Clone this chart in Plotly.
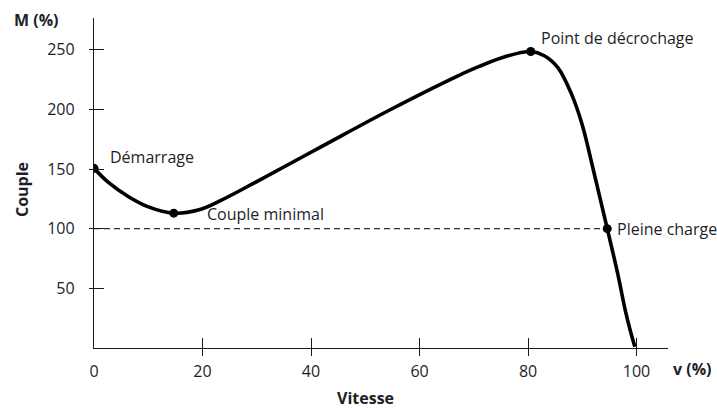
import plotly.graph_objects as go

# Torque-speed curve data
vitesse = [0, 2.6, 6.3, 9.9, 14.7, 19.2, 23.5, 30, 42, 54.5, 66.8, 71, 76, 80.5,
           83, 85.5, 88, 90, 92, 94.6, 96.5, 98, 99, 99.7]
couple = [150.6, 139, 127, 118.5, 113, 115.6, 124, 139.5, 169, 199.5, 227.5, 236, 244.5, 248.5,
          245, 235, 213, 187, 150, 100, 63, 30, 12, 1]

# Key points
pt_names = ["Démarrage", "Couple minimal", "Point de décrochage", "Pleine charge"]
pt_x = [0, 14.7, 80.5, 94.6]
pt_y = [150.6, 113, 248.5, 100]
pt_xshift = [14, 31, 8, 8]
pt_yshift = [11, -1, 14, 0]

# Nominal torque reference
nominal_x = [0, 94.6]
nominal_y = [100, 100]

x_ticks = [0, 20, 40, 60, 80, 100]
y_ticks = [50, 100, 150, 200, 250]

FONT = "Open Sans"
FS = 16
TXT = "#1e1e28"
AX = "#1a1a1a"

fig = go.Figure()

fig.add_trace(go.Scatter(x=nominal_x, y=nominal_y, mode="lines",
                         line=dict(color="#333333", width=1.2, dash="6px,4px"),
                         hoverinfo="skip", showlegend=False))
fig.add_trace(go.Scatter(x=vitesse, y=couple, mode="lines",
                         line=dict(color="black", width=3.6, shape="spline", smoothing=1.0),
                         showlegend=False))
fig.add_trace(go.Scatter(x=pt_x, y=pt_y, mode="markers",
                         marker=dict(color="black", size=9),
                         showlegend=False))

for n, x, y, dx, dy in zip(pt_names, pt_x, pt_y, pt_xshift, pt_yshift):
    fig.add_annotation(x=x, y=y, text=n, showarrow=False, xanchor="left", yanchor="middle",
                       xshift=dx, yshift=dy, font=dict(family=FONT, size=FS, color=TXT))

xr = [0, 105.8]
yr = [0, 276.6]

fig.update_layout(
    width=717, height=409,
    margin=dict(l=94, r=49, t=18, b=61),
    paper_bgcolor="white", plot_bgcolor="white",
    font=dict(family=FONT, size=FS, color=TXT),
    xaxis=dict(range=xr, showgrid=False, zeroline=False, showline=True, linecolor=AX, linewidth=1.3,
               ticks="outside", ticklen=7, tickwidth=1.2, tickcolor=AX,
               tickvals=x_ticks[1:], showticklabels=False),
    xaxis2=dict(range=xr, overlaying="x", side="bottom", showgrid=False, zeroline=False, showline=False,
                ticks="inside", ticklen=10, tickwidth=1.2, tickcolor=AX,
                tickvals=x_ticks, ticktext=[str(v) for v in x_ticks], ticklabelstandoff=12,
                tickfont=dict(family=FONT, size=FS, color=TXT)),
    yaxis=dict(range=yr, showgrid=False, zeroline=False, showline=True, linecolor=AX, linewidth=1.3,
               ticks="outside", ticklen=4, tickwidth=1.2, tickcolor=AX,
               tickvals=y_ticks, ticktext=[str(v) for v in y_ticks], ticklabelstandoff=11,
               tickfont=dict(family=FONT, size=FS, color=TXT)),
    yaxis2=dict(range=yr, overlaying="y", side="left", showgrid=False, zeroline=False, showline=False,
                ticks="inside", ticklen=10, tickwidth=1.2, tickcolor=AX,
                tickvals=y_ticks, showticklabels=False),
)

# dummy trace to activate overlay axes
fig.add_trace(go.Scatter(x=[None], y=[None], xaxis="x2", yaxis="y2", showlegend=False, hoverinfo="skip"))

# axis titles
fig.add_annotation(xref="paper", yref="paper", x=-0.1001, y=0.995, text="<b>M (%)</b>", showarrow=False,
                   xanchor="center", yanchor="middle", font=dict(family=FONT, size=FS, color=TXT))
fig.add_annotation(xref="paper", yref="paper", x=1.043, y=-0.0647, text="<b>v (%)</b>", showarrow=False,
                   xanchor="center", yanchor="middle", font=dict(family=FONT, size=FS, color=TXT))
fig.add_annotation(xref="paper", yref="paper", x=-0.1254, y=0.4787, text="<b>Couple</b>", showarrow=False,
                   textangle=-90, xanchor="center", yanchor="middle", font=dict(family=FONT, size=FS, color=TXT))
fig.add_annotation(xref="paper", yref="paper", x=0.4736, y=-0.1527, text="<b>Vitesse</b>", showarrow=False,
                   xanchor="center", yanchor="middle", font=dict(family=FONT, size=FS, color=TXT))

fig.write_html("out.html", post_script="document.body.style.margin='0';",
               config={"displayModeBar": False})
